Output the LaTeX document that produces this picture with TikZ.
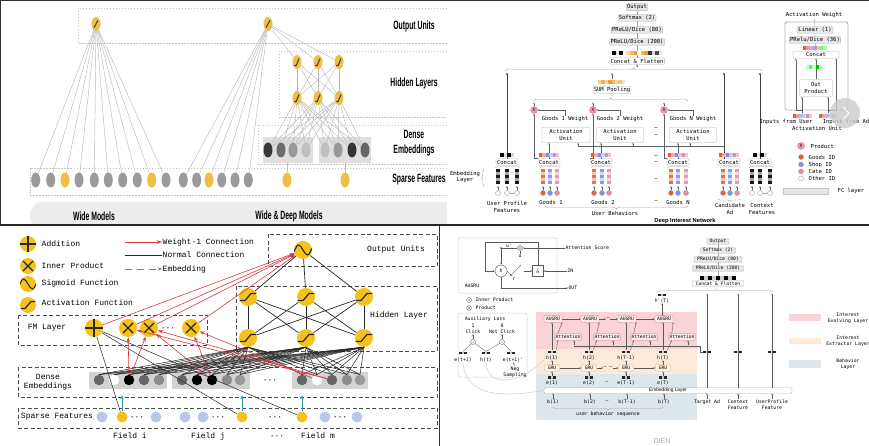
\documentclass[tikz,border=0pt]{standalone}
\usepackage{fontspec}
\usepackage{graphicx}
\usetikzlibrary{shapes.geometric,decorations.pathreplacing,arrows.meta}
\newfontfamily\wdfont{Liberation Sans}
\newfontfamily\dinfont{DejaVu Sans Mono}
\newfontfamily\fmfont{Liberation Mono}
\definecolor{wdyel}{HTML}{EDBF45}
\definecolor{wdgray}{HTML}{9B9B9B}
\definecolor{fmyel}{HTML}{F4C21B}
\definecolor{fmblue}{HTML}{B9C8E4}
\definecolor{fmteal}{HTML}{3A98AE}
\definecolor{fmred}{HTML}{D9363E}
\definecolor{goodsred}{HTML}{EE5A36}
\definecolor{shopblue}{HTML}{7C8FEF}
\definecolor{catepink}{HTML}{E98CA3}
\definecolor{dinorange}{HTML}{F39A2D}
\definecolor{evolve}{HTML}{F9D3D7}
\definecolor{extract}{HTML}{FCEBDA}
\definecolor{behav}{HTML}{DDE7EB}
\definecolor{dienred}{HTML}{C9797D}

% row of small squares: x, y, size, colours
\newcommand{\sqbar}[4]{\foreach \sqc [count=\sqi] in {#4}
  \fill[\sqc] ({#1+(\sqi-1)*#3},{#2-#3/2}) rectangle ++(#3,#3);}
% column of embedding squares: x, top, colour
\newcommand{\colbar}[3]{\foreach \sqk/\sqs in {0/90,3/35,6/90,9/35,12/90}
  \fill[#3!\sqs] ({#1-1.6},{#2+\sqk}) rectangle ++(3.2,3);}
\newcommand{\wdtext}[1]{\scalebox{0.57}[1]{#1}}
\newcommand{\pp}[2]{([shift={(#1,#2)}]path picture bounding box.center)}

\begin{document}
\begin{tikzpicture}[x=1pt,y=-1pt]
\useasboundingbox (0,0) rectangle (869,446);

%% ---------------- wide & deep ----------------
\tikzstyle{wdsp}=[ellipse,fill=wdgray,minimum width=9pt,minimum height=15pt,inner sep=0pt]
\tikzstyle{wdy}=[wdsp,fill=wdyel]
\tikzstyle{wdout}=[wdsp,fill=wdyel,minimum height=14pt,path picture={\draw[line width=1.1pt,black!75] \pp{-1.8}{3.5} -- \pp{1.8}{-3.5};}]
\tikzstyle{wdhid}=[wdsp,fill=wdyel,minimum height=14pt,path picture={\draw[line width=1.1pt,black!75] \pp{-3}{3.5} -- \pp{-0.8}{3.5} -- \pp{2}{-3.5};}]
\tikzstyle{wddash}=[gray!45,dash pattern=on 1.5pt off 1.5pt,line width=0.6pt]
\tikzstyle{wdline}=[gray!55,line width=0.45pt]
\tikzstyle{wdlab}=[font=\wdfont\bfseries\fontsize{12}{15}\selectfont,align=center,inner sep=0pt]

\begin{scope}
\clip (0,0) rectangle (447,225);
\draw[wddash] (447,8) -| (78,43) -- (447,43);
\draw[wddash] (447,51) -| (279,117) -- (447,117);
\draw[wddash] (447,125) -| (258,164) -- (447,164);
\draw[wddash] (447,168) -| (30,195) -- (447,195);
\fill[gray!15] (38,202) -- (448,202) -- (448,224) -- (32,224) .. controls (28,213) .. (38,202);
\fill[gray!25] (263,137) rectangle (313,163);
\fill[gray!25] (319,137) rectangle (371,163);

\node[wdout] (wo) at (96,24) {};
\node[wdout] (dwo) at (268,24) {};
\foreach \x/\s [count=\i] in {35.7/wdsp,50.7/wdsp,65/wdy,79/wdsp,94.3/wdsp,108.3/wdsp,122.7/wdsp,137.3/wdsp,151.7/wdy,166/wdsp}
  \node[\s] (ws\i) at (\x,180) {};
\foreach \x/\s [count=\i] in {183.3/wdsp,196.7/wdsp,209/wdy,221.7/wdsp,235/wdsp,248.3/wdsp}
  \node[\s] (ds\i) at (\x,180) {};
\node[wdy] (dso1) at (287,180) {};
\node[wdy] (dso2) at (345,180) {};
\foreach \x [count=\i] in {297,318,339} {
  \node[wdhid] (hu\i) at (\x,62) {};
  \node[wdhid] (hl\i) at (\x,98) {};
}
\foreach \x/\c [count=\i] in {268/black!78,281/black!58,293/black!40,306/black!25,325/black!25,338/black!40,352/black!80,365/black!60}
  \node[wdsp,fill=\c] (de\i) at (\x,150) {};

\foreach \i in {1,...,10} \draw[wdline] (wo) -- (ws\i);
\foreach \i in {1,...,6} \draw[wdline] (dwo) -- (ds\i);
\foreach \i in {1,2,3} {
  \draw[wdline] (dwo) -- (hu\i);
  \foreach \j in {1,2,3} \draw[wdline] (hu\i) -- (hl\j);
  \foreach \j in {1,...,8} \draw[wdline] (hl\i) -- (de\j);
}
\draw[wdline] (dso1) -- (287,163);
\draw[wdline] (dso2) -- (345,163);

\node[wdlab] (lout) at (414,26) {\wdtext{Output Units}};
\node[wdlab] (lhid) at (414,83) {\wdtext{Hidden Layers}};
\node[wdlab] (lden) at (414,143) {\wdtext{Dense}\\\wdtext{Embeddings}};
\node[wdlab] (lsp) at (419,180) {\wdtext{Sparse Features}};
\node[wdlab] (lwide) at (94,216) {\wdtext{Wide Models}};
\node[wdlab] (lwd) at (289,216) {\wdtext{Wide \& Deep Models}};
\end{scope}

%% ---------------- DIN ----------------
\tikzstyle{dinbox}=[draw=gray!60,fill=gray!18,rounded corners=0.8pt,inner sep=0.8pt,minimum height=6.5pt,font=\dinfont\fontsize{5.5}{6}\selectfont]
\tikzstyle{dinwbox}=[dinbox,fill=white]
\tikzstyle{dintxt}=[font=\dinfont\fontsize{5.5}{6.5}\selectfont,align=center,inner sep=0.5pt]
\tikzstyle{dinarr}=[-{Stealth[length=2pt,width=1.6pt]},gray!75!black,line width=0.4pt]
\tikzstyle{dinthick}=[-{Stealth[length=2.6pt,width=2.2pt]},black!75,line width=0.8pt]
\tikzstyle{prodc}=[circle,fill=catepink!85,draw=red!55,minimum size=7pt,inner sep=0pt,font=\dinfont\fontsize{4.5}{5}\selectfont]
\tikzstyle{idc}=[circle,draw=gray!75,line width=0.4pt,minimum size=5pt,inner sep=0pt]
\tikzstyle{dinbrace}=[gray!70,line width=0.45pt,decorate,decoration={brace,amplitude=3pt}]

\node[dinbox] (dout) at (637,7) {Output};
\node[dinbox] (dsm) at (637,18) {Softmax (2)};
\node[dinbox] (dp80) at (637,30) {PReLU/Dice (80)};
\node[dinbox] (dp200) at (637,42) {PReLU/Dice (200)};
\node[dinwbox] (dcf) at (637,61) {Concat \& Flatten};
\draw[gray!70,line width=0.4pt] (dcf) -- (dp200) -- (dp80) -- (dsm) -- (dout);
\sqbar{612}{53}{3.6}{black,gray!25,black,white,dinorange!40,dinorange!70,dinorange,white,dinorange!70,dinorange,black!80,gray!30,black!70,gray!20}
\draw[dinbrace] (505,71) -- (762,71);
\coordinate (btip) at (637,67.5);
\draw[dinarr] (btip) -- (dcf.south);

\node[dinwbox] (dsum) at (612,90) {SUM Pooling};
\sqbar{598}{82}{3.4}{dinorange!50,dinorange!80,dinorange!40,dinorange,dinorange!70,dinorange!40,dinorange!60,dinorange!30}
\coordinate (dsumup) at (612,79);
\draw[dinarr] (dsumup) -- ++(0,-6);
\draw[dinbrace] (533,101) -- (688,101);

% goods, candidate ad, context, user profile
\node[dinwbox,minimum width=22pt] (ducon) at (507,162) {Concat};
\node[dinwbox,minimum width=22pt] (gc1) at (549,162) {Concat};
\node[dinwbox,minimum width=22pt] (gc2) at (601,162) {Concat};
\node[dinwbox,minimum width=22pt] (gcN) at (678,162) {Concat};
\node[dinwbox,minimum width=22pt] (adc) at (729,162) {Concat};
\node[dinwbox,minimum width=22pt] (ctxc) at (760,162) {Concat};

\node[dinwbox,minimum width=48pt,minimum height=15pt,align=center,font=\dinfont\fontsize{5.5}{6.3}\selectfont] (ab1) at (566,135) {Activation\\Unit};
\node[dinwbox,minimum width=47pt,minimum height=15pt,align=center,font=\dinfont\fontsize{5.5}{6.3}\selectfont] (ab2) at (620,135) {Activation\\Unit};
\node[dinwbox,minimum width=47pt,minimum height=15pt,align=center,font=\dinfont\fontsize{5.5}{6.3}\selectfont] (abN) at (693,135) {Activation\\Unit};
\node[prodc] (pr1) at (534,110) {X};
\node[prodc] (pr2) at (593,110) {X};
\node[prodc] (prN) at (664,110) {X};
\node[dintxt] (w1) at (565,119) {Goods 1 Weight};
\node[dintxt] (w2) at (620,119) {Goods 2 Weight};
\node[dintxt] (wN) at (693,119) {Goods N Weight};

\coordinate (adj) at (724,146);
\coordinate (adl) at (578,146);
\draw[gray!75!black,line width=0.5pt] (adj) -- (adl);
\foreach \i/\s in {1/12,2/13,N/-3} {
  \draw[dinarr] (w\i.north) |- (pr\i.east);
  \draw[dinarr] (pr\i.north) -- ++(0,-4);
  \draw[dinarr] (gc\i.north) -- (gc\i.north |- ab\i.south);
  \draw[dinarr] (gc\i.north west) -- (gc\i.north west -| pr\i) -- (pr\i.south);
  \draw[dinarr] ([xshift=\s pt]ab\i.south) ++(0,3.5) -- ++(0,-3.5);
}
\draw[dinthick] (ducon.north) -- ++(0,-86);
\draw[dinthick] ([xshift=-5pt]adc.north) -- ++(0,-86);
\draw[dinthick] (ctxc.north) -- ++(0,-86);

\sqbar{500}{155}{3.5}{black,gray!25,black,gray!30}
\sqbar{753}{155}{3.5}{black,gray!25,black,gray!30}
\foreach \x in {539,591,668,719} {
  \sqbar{\x}{155}{3.4}{goodsred,goodsred!50,shopblue,shopblue!45,catepink,catepink!50}
}

\foreach \x/\c/\f [count=\k] in {498/black/white,507/black/white,517/black/white,543/goodsred/goodsred,550/shopblue/shopblue,557/catepink/catepink,594/goodsred/goodsred,602/shopblue/shopblue,609/catepink/catepink,671/goodsred/goodsred,678/shopblue/shopblue,686/catepink/catepink,723/goodsred/goodsred,730/shopblue/shopblue,737/catepink/catepink,752/black/white,760/black/white,770/black/white} {
  \colbar{\x}{169}{\c}
  \node[idc,fill=\f] (ec\k) at (\x,193) {};
  \draw[dinarr] (ec\k) -- ++(0,-7);
}
\draw[gray!70,line width=0.4pt] (ec2) -- (ec3);
\draw[gray!70,line width=0.4pt] (ec17) -- (ec18);
\foreach \a/\b in {495/520,540/560,591/612,668/689,720/740,749/773} {
  \draw[gray!70,line width=0.4pt,decorate,decoration={brace,amplitude=1.5pt}] (\a,167.5) -- (\b,167.5);
}

\foreach \y [count=\i] in {129,136,157,163,180,202} {
  \node[dintxt] (dd\i) at (656,\y) {–};
}

\node[dintxt] (dlemb) at (465,177) {Embedding\\Layer};
\draw[dinbrace,decoration={brace,amplitude=2.5pt}] (484,186) -- (484,169);
\node[dintxt] (dlup) at (507,207) {User Profile\\Features};
\node[dintxt] (dlg1) at (551,202) {Goods 1};
\node[dintxt] (dlg2) at (603,202) {Goods 2};
\node[dintxt] (dlgN) at (678,202) {Goods N};
\draw[dinbrace,decoration={brace,amplitude=2pt}] (741,199) -- (718,199);
\node[dintxt] (dlad) at (730,209) {Candidate\\Ad};
\node[dintxt] (dlctx) at (762,209) {Context\\Features};
\draw[dinbrace] (688,206) -- (545,206);
\node[dintxt] (dlub) at (615,213.5) {User Behaviors};
\node[font=\wdfont\bfseries\fontsize{5.8}{7}\selectfont] (dltitle) at (685,221) {Deep Interest Network};

% activation unit detail
\node[draw=gray!60,line width=0.9pt,rounded corners=2pt,minimum width=63pt,minimum height=88pt,inner sep=0pt] (aubox) at (816.5,66) {};
\node[dintxt] (aw) at (814,15) {Activation Weight};
\node[dinbox,minimum width=36pt] (alin) at (815,30) {Linear (1)};
\node[dinbox] (apr) at (815,40) {PRelu/Dice (36)};
\node[dinwbox,minimum width=46pt] (acon) at (816,55) {Concat};
\node[dinwbox,minimum width=33pt,minimum height=17pt,align=center,font=\dinfont\fontsize{5.5}{6.5}\selectfont] (aop) at (816,88) {Out\\Product};
\draw[gray!70,line width=0.4pt] (acon) -- (apr) -- (alin) -- (aw);
\draw[dinarr] (aop.north) -- (acon.south);
\sqbar{803}{48}{3.4}{goodsred,goodsred!60,shopblue!60,catepink,catepink!60,green!60,green!35}
\sqbar{806}{67}{3.2}{green!25,green!70,green!25,green!75!black,green!30,green!15}
\coordinate (ain1) at (802,113);
\coordinate (ain2) at (828,113);
\draw[dinarr] (ain1) -- ++(0,-3) -| ([xshift=3pt]acon.south west);
\draw[dinarr] (ain2) -- ++(0,-3) -| ([xshift=-3pt]acon.south east);
\draw[dinarr] (ain1) -- (ain1 |- aop.south);
\draw[dinarr] (ain2) -- (ain2 |- aop.south);
\sqbar{793}{116}{3.2}{goodsred,goodsred!60,shopblue!60,shopblue!40,catepink,catepink!50}
\sqbar{819}{116}{3.2}{goodsred,goodsred!60,shopblue!60,shopblue!40,catepink,catepink!50}
\node[dintxt] (ainu) at (786,122) {Inputs from User};
\node[dintxt] (aina) at (846,122) {Inputs from Ad};
\node[dintxt] (aunit) at (817,128) {Activation Unit};
\fill[gray!40,opacity=0.8] (845,113) circle (15);
\draw[white,line width=1pt] (843,107) -- (849,113) -- (843,119);

% legend
\node[prodc] (lgp) at (801,146) {X};
\node[dintxt,anchor=west] (lgpt) at (810,146) {Product};
\node[idc,fill=goodsred] (lgg) at (801,157) {};
\node[dintxt,anchor=west] (lggt) at (808,157) {Goods ID};
\node[idc,fill=shopblue] (lgs) at (801,164.5) {};
\node[dintxt,anchor=west] (lgst) at (808,164.5) {Shop ID};
\node[idc,fill=catepink] (lgc) at (801,171.5) {};
\node[dintxt,anchor=west] (lgct) at (808,171.5) {Cate ID};
\node[idc,fill=white] (lgo) at (801,178.5) {};
\node[dintxt,anchor=west] (lgot) at (808,178.5) {Other ID};
\node[fill=gray!20,draw=gray!45,minimum width=45pt,minimum height=6pt,inner sep=0pt] (lgfc) at (806,191) {};
\node[dintxt,anchor=west] (lgfct) at (837,191) {FC layer};

%% ---------------- DeepFM ----------------
\tikzstyle{fmn}=[circle,fill=fmyel,minimum size=18pt,inner sep=0pt]
\tikzstyle{fmadd}=[fmn,path picture={\draw[line width=1.2pt,black!85] \pp{0}{-10} -- \pp{0}{10} \pp{-10}{0} -- \pp{10}{0};}]
\tikzstyle{fmmul}=[fmn,path picture={\draw[line width=1.2pt,black!85] \pp{-5}{-5} -- \pp{5}{5} \pp{-5}{5} -- \pp{5}{-5};}]
\tikzstyle{fmsig}=[fmn,path picture={\draw[line width=1.1pt,black!85] \pp{-9}{2} sin \pp{-4.5}{-5} cos \pp{0}{0} sin \pp{4.5}{5} cos \pp{9}{-2};}]
\tikzstyle{fmact}=[fmn,path picture={\draw[line width=1.2pt,black!85] \pp{-10}{3.5} -- \pp{-3}{3.5} -- \pp{3}{-3.5} -- \pp{10}{-3.5};}]
\tikzstyle{fmtxt}=[font=\fmfont\fontsize{8}{9.5}\selectfont,inner sep=0.5pt,align=center]
\tikzstyle{fmdash}=[black!70,line width=0.9pt,dash pattern=on 4pt off 2.5pt]
\tikzstyle{fmline}=[black!85,line width=0.5pt]
\tikzstyle{fmw}=[fmred,line width=0.6pt,-{Stealth[length=5pt,width=3.5pt]}]
\tikzstyle{fmemb}=[fmteal,line width=0.9pt,-{Stealth[length=4pt,width=3.5pt]}]
\tikzstyle{fmd}=[circle,minimum size=10.5pt,inner sep=0pt]

\draw[fmdash] (268,234) rectangle (437,266);
\draw[fmdash] (236,286) rectangle (437,351);
\draw[fmdash] (18,315) rectangle (207,345);
\draw[fmdash] (18,367) rectangle (437,397);
\draw[fmdash] (18,408) rectangle (437,428);
\fill[gray!35] (89,372) rectangle (167,389);
\fill[gray!35] (172,372) rectangle (250,389);
\fill[gray!35] (292,372) rectangle (368,389);

% legend
\node[fmadd,minimum size=16pt] (fla) at (28,244) {};
\node[fmmul,minimum size=16pt] (flm) at (28,266) {};
\node[fmsig,minimum size=16pt] (fls) at (28,284) {};
\node[fmact,minimum size=16pt] (flc) at (28,305) {};
\node[fmtxt,anchor=west] (flat) at (41,244) {Addition};
\node[fmtxt,anchor=west] (flmt) at (41,266) {Inner Product};
\node[fmtxt,anchor=west] (flst) at (41,283.5) {Sigmoid Function};
\node[fmtxt,anchor=west] (flct) at (41,303) {Activation Function};
\node[fmtxt,anchor=west] (flw) at (162,242) {Weight-1 Connection};
\node[fmtxt,anchor=west] (fln) at (162,255) {Normal Connection};
\node[fmtxt,anchor=west] (fle) at (162,269) {Embedding};
\coordinate (flw0) at (125,242);
\coordinate (fln0) at (125,255);
\coordinate (fle0) at (125,269);
\draw[fmw,line width=0.8pt] (flw0) -- (flw.west);
\draw[black!85,line width=0.8pt] (fln0) -- (fln.west);
\draw[fmemb,dash pattern=on 7pt off 5pt] (fle0) -- (fle.west);

\node[fmtxt] (fto) at (396,249) {Output Units};
\node[fmtxt] (fth) at (399,315) {Hidden Layer};
\node[fmtxt] (ftf) at (47,328) {FM Layer};
\node[fmtxt] (ftd) at (48,382) {Dense\\Embeddings};
\node[fmtxt] (fts) at (57,417) {Sparse Features};

\node[fmsig] (fo) at (303,250) {};
\foreach \x [count=\i] in {248,306,364} {
  \node[fmact] (fh\i) at (\x,297) {};
  \node[fmact] (fb\i) at (\x,338) {};
}
\node[fmadd] (fa) at (94,328) {};
\node[fmmul] (fx1) at (128,328) {};
\node[fmmul] (fx2) at (149,328) {};
\node[fmtxt] (fxd) at (168,329) {···};
\node[fmmul] (fx3) at (191,328) {};

\foreach \x/\c [count=\i] in {99/black!60,114/white,129/black,144/black!60,159/black!45,182/black!60,197/black,212/black,227/black!45,240/black!40,302/black!60,317/white,332/black!60,347/black!45,360/black!40} {
  \node[fmd,fill=\c] (fd\i) at (\x,380) {};
}
\node[fmtxt] (fdd) at (270,381) {···};
\foreach \x/\c [count=\i] in {102/fmblue,122/fmyel,156/fmblue,185/fmblue,203/fmblue,242/fmyel,302/fmyel,325/fmblue,357/fmblue} {
  \node[fmd,minimum size=11pt,fill=\c] (fs\i) at (\x,417) {};
}
\foreach \x [count=\i] in {137,218,275,340} {
  \node[fmtxt] (fsd\i) at (\x,418) {···};
}
\node[fmtxt] (ffi) at (130,436) {Field i};
\node[fmtxt] (ffj) at (208,436) {Field j};
\node[fmtxt] (ffd) at (277,437) {···};
\node[fmtxt] (ffm) at (318,436) {Field m};

% connections
\foreach \i in {1,2,3} {
  \draw[fmline,line width=0.7pt] (fo) -- (fh\i);
  \foreach \j in {1,2,3} {\draw[fmline,line width=0.7pt] (fh\i) -- (fb\j);}
  \foreach \j in {1,...,15} {\draw[fmline] (fb\i.south) -- (fd\j.north);}
}
\foreach \j in {2,6,7} {\draw[fmline] (fa) -- (fs\j);}
\foreach \a/\b in {3/1,3/2,8/2,8/3,13/1,13/2,12/3} {\draw[fmw] (fd\a) -- (fx\b);}
\foreach \n in {fa,fx1,fx2,fx3} {\draw[fmw] (\n) -- (fo);}
\foreach \j in {2,6,7} {\draw[fmemb] (fs\j.north) -- ++(0,-16);}

%% ---------------- DIEN ----------------
\tikzstyle{dntxt}=[font=\dinfont\fontsize{4.8}{6.2}\selectfont,inner sep=0.4pt,align=center]
\tikzstyle{dnbox}=[draw=dienred,fill=evolve!40,rounded corners=0.6pt,inner sep=0.6pt,minimum height=6.5pt,font=\dinfont\fontsize{4.6}{5}\selectfont]
\tikzstyle{gbox}=[dnbox,draw=orange!45!brown!70,fill=extract!60]
\tikzstyle{dngray}=[draw=gray!60,fill=gray!18,rounded corners=0.6pt,inner sep=0.5pt,minimum height=5.2pt,font=\dinfont\fontsize{4.6}{5}\selectfont]
\tikzstyle{dnarr}=[-{Stealth[length=1.8pt,width=1.5pt]},gray!70!black,line width=0.35pt]
\tikzstyle{dndot}=[draw=gray!60,dash pattern=on 0.8pt off 0.8pt,line width=0.5pt,rounded corners=2pt,inner sep=0pt]
\tikzstyle{emb3}=[minimum width=8pt,minimum height=2.8pt,inner sep=0pt,fill=black!85,path picture={\fill[gray!45] ([xshift=-1.3pt]path picture bounding box.south) rectangle ([xshift=1.3pt]path picture bounding box.north);}]
\tikzstyle{odotc}=[circle,draw=gray!70!black,line width=0.35pt,minimum size=5pt,inner sep=0pt,fill=white,path picture={\fill[black!70] (path picture bounding box.center) circle (0.7);}]
\tikzstyle{otimesc}=[circle,draw=gray!70!black,line width=0.35pt,minimum size=5pt,inner sep=0pt,fill=white,path picture={\draw[gray!70!black,line width=0.3pt] (path picture bounding box.north west) -- (path picture bounding box.south east) (path picture bounding box.north east) -- (path picture bounding box.south west);}]

\fill[evolve] (536,312) rectangle (697,349);
\fill[extract] (536,349) rectangle (697,374);
\fill[behav] (536,374) rectangle (697,420);

% AUGRU cell
\node[dndot,minimum width=99pt,minimum height=55pt] (augbox) at (507.5,265.5) {};
\node[circle,draw=gray!70!black,line width=0.4pt,minimum size=12pt,inner sep=0pt,dntxt] (agh) at (501,271) {h};
\node[draw=gray!70!black,line width=0.4pt,minimum size=11pt,inner sep=0pt,dntxt] (aght) at (538,271) {$\tilde{h}$};
\node[otimesc] (agu) at (520,248) {};
\coordinate (agtop) at (485,242);
\coordinate (agdot) at (501,248);
\draw[dnarr] (aght.north) |- (agtop) |- (agh.west);
\fill[black!75] (agdot) circle (0.8);
\draw[dnarr] (agu.west) -- (agdot) -- (agh.north);
\node[dntxt] (agup) at (509,245.5) {u'};
\node[dntxt] (agul) at (520,256) {u};
\draw[gray!70!black,line width=0.35pt] (agul.north) -- (agu.south);
\node[dntxt,anchor=west] (agatt) at (565,248) {Attention Score};
\node[dntxt,anchor=west] (agin) at (567,271) {IN};
\node[dntxt,anchor=west] (agout) at (568,288) {OUT};
\draw[dnarr] (agatt.west) -- (agu.east);
\draw[dnarr] (agin.west) -- (aght.east);
\draw[dnarr] (agh.south) |- (agout.west);
\coordinate (ags) at (511,275);
\coordinate (agsw) at (521,265);
\coordinate (agsi) at (524,271);
\fill[black!75] (ags) circle (0.8);
\draw[gray!70!black,line width=0.35pt] (agh.east) -- (ags) -- (agsw);
\draw[dnarr] (agsi) -- (aght.west);
\node[dntxt] (agr) at (514,279.5) {r};
\node[dntxt] (augl) at (472,286) {AUGRU};

\node[odotc] (lgio) at (469,300) {};
\node[dntxt,anchor=west] (lgiot) at (475,300) {Inner Product};
\node[otimesc] (lgpo) at (469,308) {};
\node[dntxt,anchor=west] (lgpot) at (475,308) {Product};

% auxiliary loss
\node[dndot,minimum width=69pt,minimum height=64pt] (auxbox) at (492.5,345) {};
\node[dntxt] (auxt) at (485,319) {Auxiliary Loss};
\node[dntxt] (ck1) at (473,328.5) {1\\Click};
\node[dntxt] (ck0) at (502,328.5) {0\\Not Click};
\node[odotc] (ac1) at (473,342) {};
\node[odotc] (ac0) at (502,342) {};
\draw[dnarr] (ac1) -- (ck1);
\draw[dnarr] (ac0) -- (ck0);
\node[emb3] (aes1) at (463,353) {};
\node[emb3] (ahs) at (486,353) {};
\node[emb3] (aes2) at (511,353) {};
\node[dntxt] (ael1) at (463,360) {e(t+1)};
\node[dntxt] (ahl) at (486,360) {h(t)};
\node[dntxt] (ael2) at (513,360) {e(t+1)'};
\draw[gray!70!black,line width=0.35pt] (aes1.north) -- (ac1) -- (ahs.north) -- (ac0) -- (aes2.north);
\node[dntxt] (negs) at (515,372) {Neg\\Sampling};
\draw[dnarr] (negs.north) -- (ael2.south);

% behaviour columns
\node[draw=gray!60,fill=white,rounded corners=1pt,minimum width=248pt,minimum height=5.5pt,inner sep=0pt,font=\wdfont\fontsize{4.8}{5}\selectfont] (emb) at (668,390.5) {Embedding Layer};
\foreach \x/\t [count=\i] in {552/1,589/2,626/T-1,663/T} {
  \node[dnbox,minimum width=18pt] (aug\i) at (\x+1,319) {AUGRU};
  \node[emb3] (hs\i) at (\x,352) {};
  \node[dntxt] (hl\i) at (\x,357.5) {h(\t)};
  \node[gbox,minimum width=15pt] (gru\i) at (\x,368) {GRU};
  \node[emb3] (es\i) at (\x,377.5) {};
  \node[dntxt] (el\i) at (\x,382.5) {e(\t)};
  \node[dntxt] (bl\i) at (\x+1,402) {b(\t)};
}
\foreach \x [count=\i] in {568,607,644,682} {
  \node[dnbox,minimum width=26pt] (att\i) at (\x,337) {Attention};
}
\node[dntxt] (adots) at (608,319) {–};
\node[dntxt] (gdots) at (608,368) {– –};
\node[dntxt] (edots) at (607,383) {–};
\node[dntxt] (bdots) at (607,402) {–};

\node[emb3] (stad) at (707,352) {};
\node[emb3] (scf) at (738,352) {};
\node[emb3] (sup) at (772,352) {};
\node[dntxt] (ltad) at (707,402) {Target Ad};
\node[dntxt] (lcf) at (738,405) {Context\\Feature};
\node[dntxt] (lup) at (772,405) {UserProfile\\Feature};

\foreach \i in {1,...,4} {
  \draw[dnarr] (bl\i.north) -- (bl\i.north |- emb.south);
  \draw[dnarr] (es\i.north) -- (gru\i.south);
  \draw[dnarr] (gru\i.north) -- (hl\i.south);
  \draw[dnarr] (hs\i.north) -- (hs\i.north |- aug\i.south);
  \draw[dnarr] ([xshift=3pt]att\i.north west) -- (aug\i.south east);
  \draw[dnarr] ([xshift=6pt]att\i.south) ++(0,5) -- ++(0,-5);
  \draw[dnarr] (hs\i.north east) -- ([xshift=3pt]att\i.south west);
}
\draw[dnarr] (aug1) -- (aug2);
\draw[dnarr] (aug2) -- (adots);
\draw[dnarr] (adots) -- (aug3);
\draw[dnarr] (aug3) -- (aug4);
\draw[dnarr] (gru1) -- (gru2);
\draw[dnarr] (gru2) -- (gdots);
\draw[dnarr] (gdots) -- (gru3);
\draw[dnarr] (gru3) -- (gru4);
\coordinate (adfeed) at (574,346);
\draw[gray!70!black,line width=0.35pt] (stad.west) -- ++(-3,0) |- (adfeed);
\foreach \n in {tad,cf,up} {
  \draw[dnarr] (l\n.north) -- (l\n.north |- emb.south);
  \draw[dnarr,line width=0.5pt] (s\n |- emb.north) -- ++(0,-94);
}
\draw[gray!40,line width=0.5pt] (ael1.south) .. controls (466,400) and (510,396) .. (emb.west);
\draw[gray!40,line width=0.5pt] (ahl.south) .. controls (488,392) and (528,380) .. (hl1.west);
\draw[gray!70,line width=0.45pt,decorate,decoration={brace,amplitude=3pt}] (663,407) -- (553,407);
\node[dntxt] (ubs) at (608,414.5) {user behavior sequence};

% top of DIEN
\node[emb3] (hps) at (662,295) {};
\node[dntxt] (hpl) at (662,300.5) {h'(T)};
\draw[dnarr] (hpl.south |- aug4.north) -- (hpl.south);
\node[dngray,minimum width=22pt] (dnout) at (718,241.5) {Output};
\node[dngray,minimum width=35pt] (dnsm) at (718,250.5) {Softmax (2)};
\node[dngray,minimum width=48pt] (dnp80) at (718,259.5) {PReLU/Dice (80)};
\node[dngray,minimum width=51pt] (dnp200) at (718,268.5) {PReLU/Dice (200)};
\node[dngray,fill=white,minimum width=51pt] (dncf) at (718,283.5) {Concat \& Flatten};
\draw[gray!70,line width=0.35pt] (dncf) -- (dnp200) -- (dnp80) -- (dnsm) -- (dnout);
\sqbar{700}{277.8}{4}{black,gray!40,black,gray!40,black,gray!40,black,gray!40,black}
\draw[gray!70,line width=0.45pt,decorate,decoration={brace,amplitude=2.5pt}] (658,292) -- (773,292);

% legend
\node[fill=evolve,minimum width=32pt,minimum height=7pt,inner sep=0pt] (lge) at (805,317.5) {};
\node[dntxt] (lget) at (848,318.5) {Interest\\Evolving Layer};
\node[fill=extract,minimum width=32pt,minimum height=6.5pt,inner sep=0pt] (lgx) at (805,341) {};
\node[dntxt] (lgxt) at (848,341) {Interest\\Extractor Layer};
\node[fill=behav,minimum width=32pt,minimum height=7.5pt,inner sep=0pt] (lgb) at (805,364) {};
\node[dntxt] (lgbt) at (848,364) {Behavior\\Layer};
\node[font=\wdfont\fontsize{7}{8}\selectfont,text=gray!70] (dien) at (662,441) {DIEN};

%% ---------------- frame ----------------
\draw[black!80,line width=1.2pt] (0,0.6) -- (869,0.6);
\draw[black!80,line width=1.2pt] (0.6,0) -- (0.6,225);
\draw[black!85,line width=1.4pt] (0,225) -- (869,225);
\draw[black!80,line width=1.2pt] (439.5,225) -- (439.5,446);
\end{tikzpicture}
\end{document}
